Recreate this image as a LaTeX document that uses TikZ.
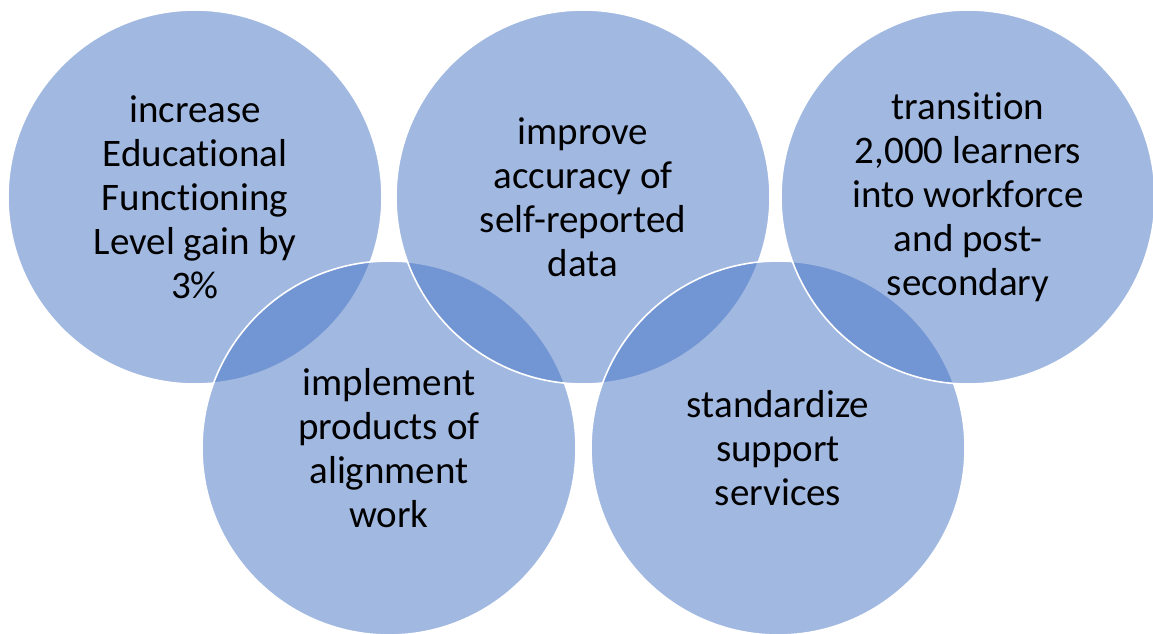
\documentclass[tikz,border=0pt]{standalone}
\usepackage{fontspec}
\setmainfont{Carlito}[Ligatures=NoCommon]
\definecolor{ringblue}{HTML}{4472C4}
\def\ringsize{374pt}

\begin{document}
\begin{tikzpicture}[x=1pt, y=-1pt,
    ring/.style={circle, minimum size=\ringsize, inner sep=0pt,
      fill=ringblue, fill opacity=0.5, text opacity=1,
      draw=white, line width=1.6pt, align=center,
      font=\fontsize{39}{44}\selectfont}]
  \useasboundingbox (0,0) rectangle (1153,634);
  % rings, drawn in stacking order (later ones lie on top)
  \node[ring] (increase) at (195,197)
    {increase\\Educational\\Functioning\\Level gain by\\3\%};
  \node[ring] (implement) at (389,448)
    {implement\\products of\\alignment\\work};
  \node[ring] (improve) at (583,197)
    {improve\\accuracy of\\self-reported\\data};
  \node[ring] (standardize) at (778,448)
    {standardize\\support\\services};
  \node[ring] (transition) at (968,197)
    {transition\\2,000 learners\\into workforce\\and post-\\secondary};
\end{tikzpicture}
\end{document}
